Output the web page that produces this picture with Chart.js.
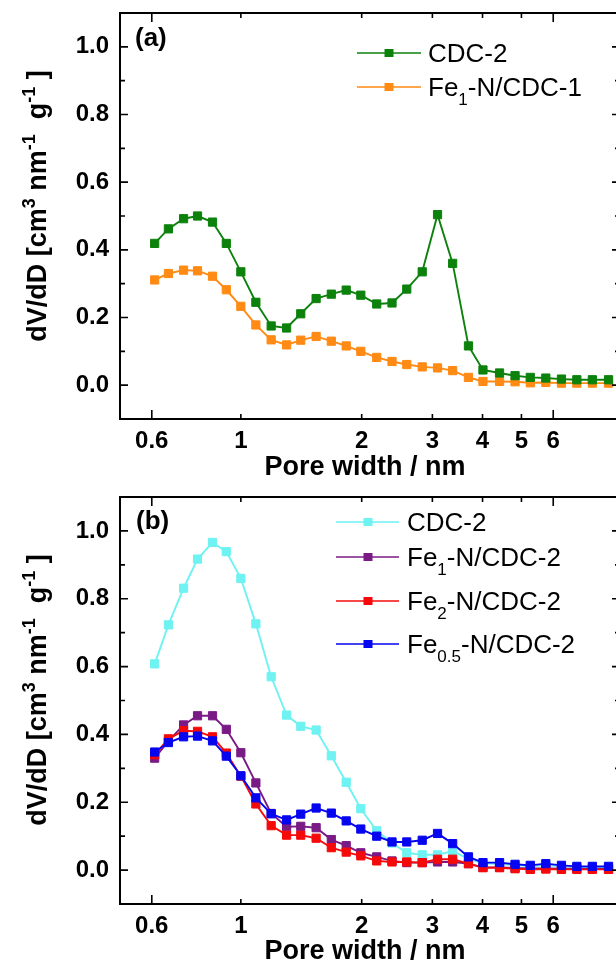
<!DOCTYPE html>
<html>
<head>
<meta charset="utf-8">
<script src="https://cdn.jsdelivr.net/npm/chart.js@4.4.1/dist/chart.umd.min.js"></script>
<style>
  html, body { margin: 0; padding: 0; background: #fff; overflow: hidden; }
  canvas { display: block; }
</style>
</head>
<body>
<canvas id="panel-a" width="640" height="484"></canvas>
<canvas id="panel-b" width="640" height="485"></canvas>
<script>
// pore width bins, nm
const poreWidth = [0.61, 0.66, 0.72, 0.78, 0.85, 0.92, 1.00, 1.09, 1.19, 1.30, 1.41, 1.54, 1.68, 1.83, 1.99, 2.18,
  2.38, 2.59, 2.83, 3.09, 3.37, 3.69, 4.01, 4.41, 4.82, 5.26, 5.75, 6.29, 6.87, 7.51, 8.24];

// panel (a)
const cdc2A = [0.419, 0.462, 0.492, 0.500, 0.482, 0.419, 0.335, 0.245, 0.175, 0.169, 0.211, 0.256, 0.269, 0.281, 0.266, 0.240,
  0.243, 0.284, 0.335, 0.504, 0.360, 0.116, 0.045, 0.036, 0.028, 0.023, 0.021, 0.018, 0.016, 0.016, 0.016];
const fe1Cdc1 = [0.311, 0.330, 0.340, 0.338, 0.322, 0.282, 0.233, 0.178, 0.134, 0.119, 0.133, 0.144, 0.130, 0.116, 0.100, 0.082,
  0.070, 0.061, 0.054, 0.051, 0.043, 0.023, 0.011, 0.011, 0.010, 0.007, 0.008, 0.006, 0.006, 0.006, 0.006];

// panel (b)
const cdc2B = [0.608, 0.723, 0.831, 0.917, 0.966, 0.939, 0.860, 0.726, 0.570, 0.457, 0.424, 0.413, 0.337, 0.259, 0.181, 0.116,
  0.080, 0.051, 0.045, 0.045, 0.056, 0.033, 0.020, 0.018, 0.015, 0.012, 0.014, 0.011, 0.009, 0.009, 0.009];
const fe1Cdc2 = [0.330, 0.380, 0.428, 0.455, 0.455, 0.415, 0.346, 0.257, 0.167, 0.128, 0.129, 0.125, 0.090, 0.072, 0.051, 0.039,
  0.027, 0.022, 0.022, 0.024, 0.024, 0.019, 0.008, 0.008, 0.006, 0.005, 0.005, 0.004, 0.004, 0.004, 0.004];
const fe2Cdc2 = [0.340, 0.387, 0.411, 0.409, 0.393, 0.345, 0.277, 0.195, 0.131, 0.103, 0.103, 0.094, 0.066, 0.053, 0.042, 0.027,
  0.024, 0.024, 0.022, 0.032, 0.032, 0.019, 0.007, 0.007, 0.004, 0.002, 0.003, 0.002, 0.002, 0.002, 0.002];
const fe05Cdc2 = [0.348, 0.376, 0.393, 0.395, 0.381, 0.336, 0.278, 0.213, 0.166, 0.148, 0.165, 0.183, 0.168, 0.145, 0.121, 0.100,
  0.083, 0.083, 0.088, 0.108, 0.078, 0.039, 0.022, 0.022, 0.017, 0.014, 0.019, 0.014, 0.011, 0.011, 0.011];

const xTicks = [0.6, 1, 2, 3, 4, 5, 6];
const xLongTicks = [0.6, 6];
const yTicks = [0, 0.2, 0.4, 0.6, 0.8, 1.0];
const yMinorTicks = [0.1, 0.3, 0.5, 0.7, 0.9];

const xTitle = "Pore width / nm";
const yTitle = [["dV/dD [cm"], ["3", "sup"], [" nm"], ["-1", "sup"], ["  g"], ["-1", "sup"], [" ]"]];

const FONT = '"Liberation Sans", Arial, sans-serif';
Chart.defaults.font.family = FONT;
Chart.defaults.color = "#000";

// "Fe{1}-N" -> [["Fe"], ["1", "sub"], ["-N"]]
function parseLabel(s) {
  return s.split(/(\{[^}]*\})/).filter((p) => p).map((p) =>
    p[0] === "{" ? [p.slice(1, -1), "sub"] : [p]);
}

function richWidth(ctx, parts, size, weight) {
  let w = 0;
  parts.forEach(([t, kind]) => {
    ctx.font = `${weight} ${kind ? Math.round(size * 0.66) : size}px ${FONT}`;
    w += ctx.measureText(t).width;
  });
  return w;
}

function drawRich(ctx, parts, x, y, size, weight) {
  let cx = x;
  parts.forEach(([t, kind]) => {
    ctx.font = `${weight} ${kind ? Math.round(size * 0.66) : size}px ${FONT}`;
    const dy = kind === "sup" ? -size * 0.42 : kind === "sub" ? size * 0.32 : 0;
    ctx.fillText(t, cx, y + dy);
    cx += ctx.measureText(t).width;
  });
}

const frame = {
  id: "frame",
  afterDatasetsDraw(chart, args, opts) {
    const { ctx, chartArea: a, scales: { x, y } } = chart;
    ctx.save();
    ctx.strokeStyle = "#000";
    ctx.fillStyle = "#000";

    // ticks, pointing inward on all four sides
    ctx.lineWidth = 1.6;
    ctx.beginPath();
    x.ticks.forEach((t) => {
      const px = x.getPixelForValue(t.value);
      const len = xLongTicks.includes(t.value) ? 9 : 5;
      ctx.moveTo(px, a.bottom); ctx.lineTo(px, a.bottom - len);
      ctx.moveTo(px, a.top); ctx.lineTo(px, a.top + len);
    });
    const yTick = (v, len) => {
      const py = y.getPixelForValue(v);
      ctx.moveTo(a.left, py); ctx.lineTo(a.left + len, py);
      ctx.moveTo(a.right, py); ctx.lineTo(a.right - len, py);
    };
    y.ticks.forEach((t) => yTick(t.value, 8));
    yMinorTicks.forEach((v) => yTick(v, 5));
    ctx.stroke();

    ctx.lineWidth = 2;
    ctx.strokeRect(a.left, a.top, a.right - a.left, a.bottom - a.top);

    // panel tag
    ctx.textBaseline = "alphabetic";
    ctx.textAlign = "left";
    ctx.font = `bold 26px ${FONT}`;
    ctx.fillText(opts.tag, opts.tagX, opts.tagY);

    // x title
    ctx.textAlign = "center";
    ctx.font = `bold 27px ${FONT}`;
    ctx.fillText(xTitle, (a.left + a.right) / 2 - 5, 475);

    // y title, rotated, with superscripts
    ctx.textAlign = "left";
    const tw = richWidth(ctx, yTitle, 27, "bold");
    ctx.save();
    ctx.translate(46, 206);
    ctx.rotate(-Math.PI / 2);
    drawRich(ctx, yTitle, -tw / 2, 0, 27, "bold");
    ctx.restore();

    // legend
    const lg = opts.legend;
    chart.data.datasets.forEach((ds, i) => {
      const ry = lg.rows[i];
      ctx.strokeStyle = ds.borderColor;
      ctx.lineWidth = 1.6;
      ctx.beginPath();
      ctx.moveTo(lg.x0, ry); ctx.lineTo(lg.x1, ry);
      ctx.stroke();
      ctx.fillStyle = ds.borderColor;
      ctx.fillRect(lg.mx - 4.5, ry - 4, 9, 8);
      ctx.fillStyle = "#000";
      drawRich(ctx, parseLabel(ds.label), lg.tx, ry + 9.3, 26, "normal");
    });
    ctx.restore();
  },
};

function series(label, values, color, order) {
  return {
    label,
    data: poreWidth.map((x, i) => ({ x, y: values[i] })),
    borderColor: color,
    backgroundColor: color,
    pointBackgroundColor: color,
    pointBorderColor: color,
    order,
  };
}

function makeChart(id, datasets, frameOpts) {
  return new Chart(document.getElementById(id), {
    type: "line",
    data: { datasets },
    plugins: [frame],
    options: {
      responsive: false,
      animation: false,
      devicePixelRatio: 1,
      layout: { padding: { top: 13, right: 20, left: 0, bottom: 0 } },
      elements: {
        line: { borderWidth: 1.9, tension: 0 },
        point: { pointStyle: "rect", radius: 5.8, borderWidth: 1 },
      },
      plugins: {
        legend: { display: false },
        tooltip: { enabled: false },
        frame: frameOpts,
      },
      scales: {
        x: {
          type: "logarithmic",
          min: 0.5,
          max: 8.8,
          afterBuildTicks: (s) => { s.ticks = xTicks.map((v) => ({ value: v })); },
          afterFit: (s) => {
            s.height = 65;
            s.paddingLeft = 0; s.paddingRight = 0; s.paddingTop = 0; s.paddingBottom = 0;
          },
          grid: { display: false, drawTicks: false },
          border: { display: false },
          ticks: {
            autoSkip: false,
            maxRotation: 0,
            padding: 8,
            font: { size: 24, weight: "bold" },
            callback: (v) => String(v),
          },
        },
        y: {
          min: -0.1,
          max: 1.1,
          afterBuildTicks: (s) => { s.ticks = yTicks.map((v) => ({ value: v })); },
          afterFit: (s) => {
            s.width = 120;
            s.paddingLeft = 0; s.paddingRight = 0; s.paddingTop = 0; s.paddingBottom = 0;
          },
          grid: { display: false, drawTicks: false },
          border: { display: false },
          ticks: {
            padding: 11,
            font: { size: 24, weight: "bold" },
            callback: (v) => Number(v).toFixed(1),
          },
        },
      },
    },
  });
}

makeChart("panel-a", [
  series("CDC-2", cdc2A, "#0c820c", 0),
  series("Fe{1}-N/CDC-1", fe1Cdc1, "#ff8a14", 1),
], {
  tag: "(a)", tagX: 135, tagY: 46,
  legend: { x0: 357, x1: 421, mx: 389, tx: 428, rows: [53, 87] },
});

makeChart("panel-b", [
  series("CDC-2", cdc2B, "#6ef2f2", 3),
  series("Fe{1}-N/CDC-2", fe1Cdc2, "#7a1a85", 2),
  series("Fe{2}-N/CDC-2", fe2Cdc2, "#f50a0a", 1),
  series("Fe{0.5}-N/CDC-2", fe05Cdc2, "#0505f0", 0),
], {
  tag: "(b)", tagX: 136, tagY: 45,
  legend: { x0: 336, x1: 399, mx: 368, tx: 407, rows: [38, 73, 117, 160] },
});
</script>
</body>
</html>
